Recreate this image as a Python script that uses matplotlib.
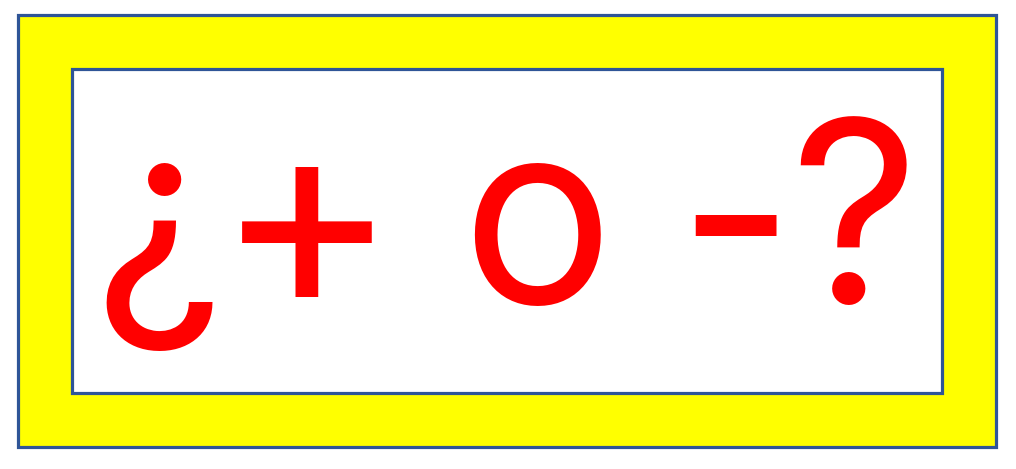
import matplotlib.pyplot as plt
from matplotlib.patches import Rectangle

# glyphs of the sign and where each one sits (pixel centre, baseline)
glyphs = ["¿", "+", "o", "-", "?"]
glyph_x = [158, 307, 537, 735, 854]
glyph_y = [303, 310, 303, 304, 303]
glyph_size = [182, 198, 182, 182, 182]

W, H = 1016, 469
fig = plt.figure(figsize=(W / 100, H / 100), dpi=100)
ax = fig.add_axes([0, 0, 1, 1])
ax.set_xlim(0, W)
ax.set_ylim(H, 0)
ax.axis("off")

edge = "#2F5597"
# outer yellow frame
ax.add_patch(Rectangle((17.5, 15.5), 978, 432, facecolor="#FFFF00",
                       edgecolor=edge, linewidth=2.3))
# inner white panel
ax.add_patch(Rectangle((71.5, 69.5), 870, 324, facecolor="white",
                       edgecolor=edge, linewidth=2.3))

for g, x, y, s in zip(glyphs, glyph_x, glyph_y, glyph_size):
    ax.text(x, y, g, color="#FF0000", fontsize=s,
            family=["Inter", "DejaVu Sans"], ha="center", va="baseline")

fig.savefig("out.png", dpi=100)
